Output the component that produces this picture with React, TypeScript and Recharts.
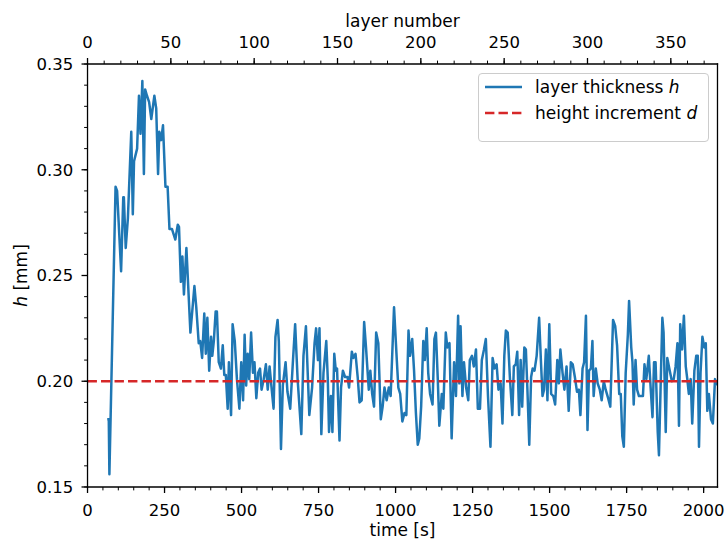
import { LineChart, Line, XAxis, YAxis, ReferenceLine, Legend, Label } from 'recharts';

// measured layer thickness h [mm] against process time [s]
const timeS = [
  64, 69, 71, 91, 96, 109, 116, 118, 124, 131, 142, 147, 151, 161, 167, 172, 178, 183, 187, 193,
  200, 207, 217, 223, 229, 233, 239, 245, 253, 260, 266, 274, 285, 293, 297, 303, 308, 313, 321, 334,
  347, 353, 361, 366, 372, 379, 384, 389, 395, 401, 405, 410, 416, 420, 426, 433, 439, 444, 449, 455,
  459, 466, 471, 478, 485, 493, 499, 505, 510, 515, 520, 525, 531, 537, 542, 548, 554, 560, 565, 572,
  579, 585, 591, 598, 604, 610, 617, 621, 628, 634, 643, 649, 658, 667, 674, 682, 694, 701, 709, 720,
  729, 737, 742, 748, 753, 759, 766, 775, 780, 784, 790, 795, 801, 806, 810, 818, 823, 829, 836, 844,
  849, 858, 863, 870, 877, 883, 890, 898, 904, 913, 918, 924, 930, 937, 944, 952, 958, 964, 971, 978,
  984, 995, 1004, 1009, 1015, 1022, 1029, 1035, 1042, 1047, 1054, 1060, 1066, 1072, 1077, 1083, 1090, 1095, 1101, 1106,
  1112, 1120, 1126, 1131, 1137, 1142, 1150, 1155, 1163, 1168, 1175, 1182, 1190, 1196, 1203, 1207, 1211, 1217, 1222, 1229,
  1236, 1241, 1248, 1254, 1261, 1267, 1274, 1280, 1287, 1293, 1300, 1308, 1315, 1321, 1328, 1334, 1341, 1347, 1353, 1358,
  1364, 1371, 1379, 1384, 1390, 1395, 1401, 1406, 1411, 1418, 1423, 1428, 1434, 1440, 1445, 1451, 1458, 1466, 1472, 1477,
  1482, 1488, 1493, 1499, 1505, 1512, 1518, 1525, 1530, 1535, 1542, 1548, 1555, 1562, 1569, 1575, 1582, 1589, 1595, 1600,
  1607, 1612, 1618, 1623, 1628, 1634, 1639, 1643, 1650, 1656, 1663, 1669, 1676, 1682, 1690, 1697, 1706, 1713, 1719, 1726,
  1731, 1736, 1741, 1747, 1754, 1758, 1765, 1769, 1773, 1779, 1784, 1790, 1803, 1808, 1814, 1822, 1828, 1834, 1839, 1844,
  1851, 1855, 1861, 1866, 1870, 1877, 1882, 1890, 1897, 1903, 1909, 1915, 1920, 1924, 1930, 1936, 1942, 1947, 1952, 1958,
  1963, 1970, 1976, 1981, 1985, 1990, 1996, 2002, 2007, 2012, 2017, 2024, 2030, 2037, 2041,
];

const thicknessMm = [
  0.182, 0.182, 0.156, 0.292, 0.290, 0.252, 0.287, 0.287, 0.263, 0.277, 0.318, 0.279, 0.304, 0.310, 0.335, 0.317, 0.342, 0.298, 0.338, 0.335,
  0.332, 0.324, 0.335, 0.329, 0.298, 0.318, 0.314, 0.321, 0.292, 0.292, 0.272, 0.272, 0.267, 0.274, 0.273, 0.247, 0.259, 0.241, 0.263, 0.223,
  0.245, 0.235, 0.218, 0.219, 0.211, 0.232, 0.213, 0.230, 0.205, 0.221, 0.212, 0.219, 0.233, 0.233, 0.209, 0.206, 0.217, 0.203, 0.203, 0.187,
  0.209, 0.184, 0.227, 0.219, 0.201, 0.187, 0.209, 0.191, 0.222, 0.198, 0.213, 0.201, 0.223, 0.204, 0.209, 0.192, 0.204, 0.206, 0.196, 0.201,
  0.208, 0.196, 0.207, 0.196, 0.187, 0.221, 0.229, 0.219, 0.168, 0.198, 0.209, 0.195, 0.187, 0.210, 0.227, 0.201, 0.175, 0.212, 0.226, 0.184,
  0.197, 0.218, 0.225, 0.210, 0.225, 0.175, 0.204, 0.219, 0.201, 0.176, 0.193, 0.176, 0.213, 0.205, 0.206, 0.172, 0.197, 0.205, 0.202, 0.202,
  0.197, 0.214, 0.211, 0.213, 0.202, 0.190, 0.191, 0.228, 0.216, 0.196, 0.205, 0.194, 0.188, 0.223, 0.218, 0.182, 0.188, 0.197, 0.191, 0.197,
  0.193, 0.235, 0.210, 0.197, 0.194, 0.181, 0.185, 0.184, 0.224, 0.212, 0.220, 0.205, 0.185, 0.170, 0.173, 0.188, 0.219, 0.210, 0.225, 0.204,
  0.194, 0.189, 0.220, 0.223, 0.201, 0.179, 0.194, 0.187, 0.223, 0.216, 0.218, 0.173, 0.209, 0.193, 0.231, 0.199, 0.226, 0.193, 0.209, 0.197,
  0.191, 0.210, 0.212, 0.207, 0.215, 0.187, 0.187, 0.210, 0.215, 0.220, 0.193, 0.169, 0.211, 0.206, 0.208, 0.196, 0.199, 0.180, 0.212, 0.224,
  0.223, 0.202, 0.184, 0.207, 0.208, 0.214, 0.184, 0.210, 0.188, 0.216, 0.215, 0.196, 0.170, 0.202, 0.206, 0.205, 0.212, 0.230, 0.209, 0.193,
  0.196, 0.215, 0.191, 0.227, 0.194, 0.193, 0.189, 0.210, 0.199, 0.215, 0.204, 0.196, 0.207, 0.186, 0.209, 0.208, 0.202, 0.195, 0.196, 0.184,
  0.206, 0.209, 0.231, 0.177, 0.205, 0.206, 0.219, 0.193, 0.206, 0.199, 0.196, 0.191, 0.200, 0.196, 0.192, 0.188, 0.229, 0.226, 0.217, 0.194,
  0.194, 0.174, 0.169, 0.204, 0.222, 0.238, 0.216, 0.209, 0.189, 0.210, 0.196, 0.193, 0.193, 0.208, 0.201, 0.212, 0.197, 0.183, 0.209, 0.209,
  0.176, 0.165, 0.201, 0.230, 0.223, 0.176, 0.211, 0.205, 0.200, 0.201, 0.207, 0.218, 0.179, 0.227, 0.215, 0.231, 0.207, 0.201, 0.194, 0.201,
  0.180, 0.205, 0.212, 0.212, 0.169, 0.204, 0.221, 0.216, 0.218, 0.186, 0.194, 0.182, 0.180, 0.201, 0.198,
];

const heightIncrementMm = 0.2;
const secondsPerLayer = 5.41;

const timeDomain = [0, 2045];
const timeTicks = [0, 250, 500, 750, 1000, 1250, 1500, 1750, 2000];
const timeMinorTicks = Array.from({ length: 41 }, (_, i) => i * 50);
const layerTicks = [0, 50, 100, 150, 200, 250, 300, 350];
const layerMinorTicks = Array.from({ length: 38 }, (_, i) => i * 10);
const hDomain = [0.15, 0.35];
const hTicks = [0.15, 0.2, 0.25, 0.3, 0.35];
const hMinorTicks = Array.from({ length: 21 }, (_, i) => 0.15 + i * 0.01);

const data = timeS.map((t, i) => ({ t, h: thicknessMm[i] }));

const FONT = '"DejaVu Sans", sans-serif';
const BLUE = '#1f77b4';
const RED = '#d62728';
const DASH = '9.4 4.1';
// axes get a hair of size: recharts skips drawing an axis whose box is 0
const AXIS_THIN = 0.01;

const tickStyle = { fill: '#000', fontSize: 16.5, fontFamily: FONT };
const spine = { stroke: '#000', strokeWidth: 1.3, strokeLinecap: 'square' as const };
const majorTick = { stroke: '#000', strokeWidth: 1.3 };
const minorTick = { stroke: '#000', strokeWidth: 1 };

// minor axes draw only the tick marks, no labels
const NoLabel = (): React.ReactElement => <g />;

const legendItems = [
  { label: 'layer thickness', symbol: 'h', color: BLUE, dash: undefined },
  { label: 'height increment', symbol: 'd', color: RED, dash: DASH },
];

function LegendBox(): React.ReactElement {
  return (
    <div
      style={{
        position: 'relative',
        width: 231,
        height: 69,
        boxSizing: 'border-box',
        border: '1px solid #cccccc',
        borderRadius: 4,
        background: 'rgba(255,255,255,0.8)',
        fontFamily: FONT,
        fontSize: 17,
        color: '#000',
      }}
    >
      {legendItems.map((item, i) => (
        <div
          key={item.symbol}
          style={{ position: 'absolute', left: 6, top: 2.7 + i * 26.6, height: 20, display: 'flex', alignItems: 'center', whiteSpace: 'nowrap' }}
        >
          <svg width={37} height={20} style={{ display: 'block' }}>
            <line x1={0} y1={10} x2={37} y2={10} stroke={item.color} strokeWidth={2.5} strokeDasharray={item.dash} />
          </svg>
          <span style={{ marginLeft: 13, lineHeight: '20px' }}>
            {item.label} <i>{item.symbol}</i>
          </span>
        </div>
      ))}
    </div>
  );
}

function YTitle(props: any): React.ReactElement {
  const vb = props.viewBox ?? { x: 87.5, y: 64, width: 0, height: 423 };
  const cx = vb.x - 61;
  const cy = vb.y + vb.height / 2;
  return (
    <text x={cx} y={cy} transform={`rotate(-90 ${cx} ${cy})`} textAnchor="middle" fill="#000" fontSize={17} fontFamily={FONT}>
      <tspan fontStyle="italic">h</tspan> [mm]
    </text>
  );
}

export default function App(): React.ReactElement {
  return (
    <div style={{ position: 'absolute', left: 0, top: 0, background: '#fff' }}>
      <LineChart width={726} height={539} data={data} margin={{ top: 64, right: 8.5, bottom: 52, left: 87.5 }}>
        {/* minor ticks first so they sit on the same spine as the major axes */}
        <XAxis
          xAxisId="bottomMinor"
          dataKey="t"
          type="number"
          domain={timeDomain}
          allowDataOverflow
          ticks={timeMinorTicks}
          interval={0}
          height={AXIS_THIN}
          tick={NoLabel}
          tickSize={3.4}
          tickLine={minorTick}
          axisLine={false}
        />
        <XAxis
          xAxisId="topMinor"
          orientation="top"
          dataKey="t"
          type="number"
          domain={timeDomain}
          allowDataOverflow
          ticks={layerMinorTicks.map((l) => l * secondsPerLayer)}
          interval={0}
          height={AXIS_THIN}
          tick={NoLabel}
          tickSize={3.4}
          tickLine={minorTick}
          axisLine={false}
        />
        <YAxis
          yAxisId="leftMinor"
          type="number"
          domain={hDomain}
          allowDataOverflow
          ticks={hMinorTicks}
          interval={0}
          width={AXIS_THIN}
          tick={NoLabel}
          tickSize={3.4}
          tickLine={minorTick}
          axisLine={false}
        />
        <XAxis
          xAxisId="bottom"
          dataKey="t"
          type="number"
          domain={timeDomain}
          allowDataOverflow
          ticks={timeTicks}
          interval={0}
          height={AXIS_THIN}
          tick={tickStyle}
          tickSize={6}
          tickMargin={11}
          tickLine={majorTick}
          axisLine={spine}
        >
          <Label value="time [s]" position="bottom" offset={37} fill="#000" fontSize={17} fontFamily={FONT} />
        </XAxis>
        <XAxis
          xAxisId="top"
          orientation="top"
          dataKey="t"
          type="number"
          domain={timeDomain}
          allowDataOverflow
          ticks={layerTicks.map((l) => l * secondsPerLayer)}
          tickFormatter={(v: number) => String(Math.round(v / secondsPerLayer))}
          interval={0}
          height={AXIS_THIN}
          tick={tickStyle}
          tickSize={6}
          tickMargin={9.7}
          tickLine={majorTick}
          axisLine={spine}
        >
          <Label value="layer number" position="top" offset={37.3} fill="#000" fontSize={17} fontFamily={FONT} />
        </XAxis>
        <YAxis
          yAxisId="left"
          type="number"
          domain={hDomain}
          allowDataOverflow
          ticks={hTicks}
          tickFormatter={(v: number) => v.toFixed(2)}
          interval={0}
          width={AXIS_THIN}
          tick={tickStyle}
          tickSize={6}
          tickMargin={8.2}
          tickLine={majorTick}
          axisLine={spine}
          label={<Label content={YTitle} />}
        />
        <YAxis
          yAxisId="right"
          orientation="right"
          type="number"
          domain={hDomain}
          allowDataOverflow
          width={AXIS_THIN}
          tick={false}
          tickLine={false}
          axisLine={spine}
        />
        <Line
          xAxisId="bottom"
          yAxisId="left"
          type="linear"
          dataKey="h"
          stroke={BLUE}
          strokeWidth={2.5}
          strokeLinejoin="round"
          dot={false}
          activeDot={false}
          isAnimationActive={false}
        />
        <ReferenceLine
          xAxisId="bottom"
          yAxisId="left"
          y={heightIncrementMm}
          stroke={RED}
          strokeWidth={2.5}
          strokeDasharray={DASH}
        />
        <Legend
          layout="horizontal"
          verticalAlign="middle"
          align="center"
          wrapperStyle={{ top: 73, left: 478, width: 231, height: 69 }}
          content={() => <LegendBox />}
        />
      </LineChart>
    </div>
  );
}
